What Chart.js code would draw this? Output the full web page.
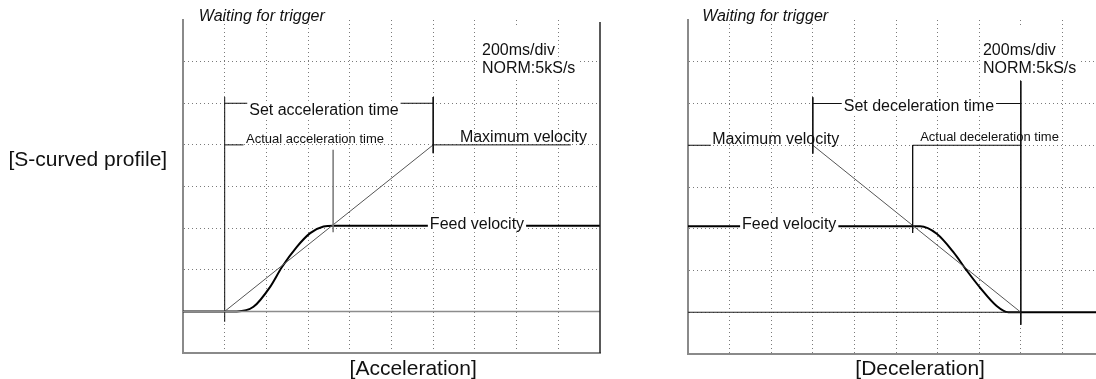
<!DOCTYPE html>
<html lang="en">
<head>
<meta charset="UTF-8">
<title>S-curved profile</title>
<script src="https://cdn.jsdelivr.net/npm/chart.js"></script>
<style>
    html, body { margin: 0; padding: 0; background: #fff; overflow: hidden; }
    .wrap { position: relative; width: 1096px; height: 379px; overflow: hidden; }
    #accChart { position: absolute; left: 0; top: 0; }
    #decChart { position: absolute; left: 640px; top: 0; }
</style>
</head>
<body>
<div class="wrap">
    <canvas id="accChart" width="640" height="379"></canvas>
    <canvas id="decChart" width="480" height="379"></canvas>
</div>
<script>
    // scope screen, values in divisions (10 x 8), 200ms/div
    const xDivMax = 10;
    const yDivMax = 8;

    // acceleration trace
    const accTraceX = [0, 1.29, 1.69, 2.09, 2.37, 2.73, 3.05, 3.37, 3.61, 10];
    const accTraceY = [1, 1, 1.11, 1.59, 2.06, 2.55, 2.88, 3.04, 3.06, 3.06];
    const accRampX = [1, 6];
    const accRampY = [1, 5];

    // deceleration trace
    const decTraceX = [0, 5.58, 5.98, 6.38, 6.70, 7.02, 7.42, 7.70, 10];
    const decTraceY = [3.06, 3.06, 2.88, 2.44, 2.00, 1.59, 1.15, 1, 1];
    const decRampX = [3, 8];
    const decRampY = [5, 1];

    // marker segments [x1, y1, x2, y2]
    const accMarks = [
        [1, 0.75, 1, 6.15],
        [1, 6, 6, 6],
        [6, 6.15, 6, 4.8],
        [1, 5, 1.45, 5],
        [6, 5, 9.3, 5]
    ];
    const accActualMark = [3.6, 4.88, 3.6, 2.9];
    const accZeroLine = [0, 1, 10, 1];

    const decMarks = [
        [3, 6.15, 3, 4.8],
        [3, 6, 8, 6],
        [8, 6.54, 8, 0.7],
        [5.4, 5, 5.4, 2.9],
        [5.4, 5, 8, 5],
        [0, 5, 0.55, 5]
    ];
    const decZeroLine = [0, 1, 8, 1];

    const FONT = '"Liberation Sans", Arial, sans-serif';

    const accLabels = [
        { text: 'Waiting for trigger', x: 0.38, y: 7.97, size: 16, italic: true },
        { text: '200ms/div', x: 7.17, y: 7.16, size: 16, bg: true, padTop: 16 },
        { text: 'NORM:5kS/s', x: 7.17, y: 6.73, size: 16, bg: true, padBottom: 3 },
        { text: 'Set acceleration time', x: 3.38, y: 5.72, size: 16, align: 'center', bg: true },
        { text: 'Actual acceleration time', x: 1.51, y: 5.05, size: 13 },
        { text: 'Maximum velocity', x: 6.64, y: 5.08, size: 16 },
        { text: 'Feed velocity', x: 7.05, y: 2.98, size: 16, align: 'center', bg: true },
        { text: '[Acceleration]', x: 5.52, y: -0.52, size: 21, align: 'center' },
        { text: '[S-curved profile]', x: -0.38, y: 4.5, size: 21, align: 'right' }
    ];
    const decLabels = [
        { text: 'Waiting for trigger', x: 0.34, y: 7.98, size: 16, italic: true },
        { text: '200ms/div', x: 7.09, y: 7.17, size: 16, bg: true, padTop: 16 },
        { text: 'NORM:5kS/s', x: 7.09, y: 6.74, size: 16, bg: true, padBottom: 3 },
        { text: 'Set deceleration time', x: 5.55, y: 5.83, size: 16, align: 'center', bg: true },
        { text: 'Actual deceleration time', x: 5.58, y: 5.11, size: 13 },
        { text: 'Maximum velocity', x: 0.58, y: 5.04, size: 16 },
        { text: 'Feed velocity', x: 1.3, y: 3.0, size: 16, bg: true },
        { text: '[Deceleration]', x: 5.58, y: -0.5, size: 21, align: 'center' }
    ];

    function pts(xs, ys) {
        return xs.map((x, i) => ({ x: x, y: ys[i] }));
    }

    function seg(s, color, width) {
        return {
            data: [{ x: s[0], y: s[1] }, { x: s[2], y: s[3] }],
            borderColor: color, borderWidth: width,
            pointRadius: 0, tension: 0
        };
    }

    function trace(xs, ys) {
        return {
            data: pts(xs, ys),
            borderColor: '#000', borderWidth: 2,
            pointRadius: 0, cubicInterpolationMode: 'monotone'
        };
    }

    const scopeText = {
        id: 'scopeText',
        afterDraw(chart, args, opts) {
            const { ctx, chartArea, scales: { x, y } } = chart;
            ctx.save();
            if (opts.frameRight) {
                ctx.strokeStyle = '#222';
                ctx.lineWidth = 1.5;
                ctx.beginPath();
                ctx.moveTo(chartArea.right, chartArea.top + 2);
                ctx.lineTo(chartArea.right, chartArea.bottom);
                ctx.stroke();
            }
            opts.labels.forEach(l => {
                ctx.font = (l.italic ? 'italic ' : '') + l.size + 'px ' + FONT;
                ctx.textAlign = l.align || 'left';
                ctx.textBaseline = 'alphabetic';
                const px = x.getPixelForValue(l.x);
                const py = y.getPixelForValue(l.y);
                if (l.bg) {
                    const w = ctx.measureText(l.text).width;
                    const left = l.align === 'center' ? px - w / 2 : (l.align === 'right' ? px - w : px);
                    const top = py - l.size * 0.85 - (l.padTop || 0);
                    const bottom = py + l.size * 0.2 + (l.padBottom || 0);
                    ctx.fillStyle = '#fff';
                    ctx.fillRect(left - 2, top, w + 4, bottom - top);
                }
                ctx.fillStyle = '#111';
                ctx.fillText(l.text, px, py);
            });
            ctx.restore();
        }
    };

    function scopeScales() {
        const hideEdge = max => c => (c.tick && (c.tick.value === 0 || c.tick.value === max)) ? 'rgba(0,0,0,0)' : '#7a7a7a';
        return {
            x: {
                type: 'linear', min: 0, max: xDivMax,
                ticks: { display: false, stepSize: 1 },
                grid: { color: hideEdge(xDivMax), drawTicks: false, lineWidth: 1 },
                border: { color: '#8a8a8a', width: 2, dash: [1, 3] }
            },
            y: {
                type: 'linear', min: 0, max: yDivMax,
                ticks: { display: false, stepSize: 1 },
                grid: { color: hideEdge(yDivMax), drawTicks: false, lineWidth: 1 },
                border: { color: '#8a8a8a', width: 2, dash: [1, 3] }
            }
        };
    }

    function makeChart(id, datasets, labels, padding, frameRight) {
        return new Chart(document.getElementById(id), {
            type: 'line',
            data: { datasets: datasets },
            options: {
                responsive: false,
                animation: false,
                layout: { padding: padding },
                scales: scopeScales(),
                plugins: {
                    legend: { display: false },
                    tooltip: { enabled: false },
                    scopeText: { labels: labels, frameRight: frameRight }
                }
            },
            plugins: [scopeText]
        });
    }

    makeChart('accChart', [
        seg(accZeroLine, '#8c8c8c', 1.5),
        seg(accActualMark, '#777', 1.5),
        ...accMarks.map(s => seg(s, '#111', 1)),
        { data: pts(accRampX, accRampY), borderColor: '#555', borderWidth: 1, pointRadius: 0, tension: 0 },
        trace(accTraceX, accTraceY)
    ], accLabels, { left: 183, right: 40, top: 20, bottom: 26 }, true);

    makeChart('decChart', [
        seg(decZeroLine, '#222', 1),
        ...decMarks.map(s => seg(s, '#111', 1)),
        { data: pts(decRampX, decRampY), borderColor: '#555', borderWidth: 1, pointRadius: 0, tension: 0 },
        trace(decTraceX, decTraceY)
    ], decLabels, { left: 48, right: 16, top: 20, bottom: 25 }, false);
</script>
</body>
</html>
